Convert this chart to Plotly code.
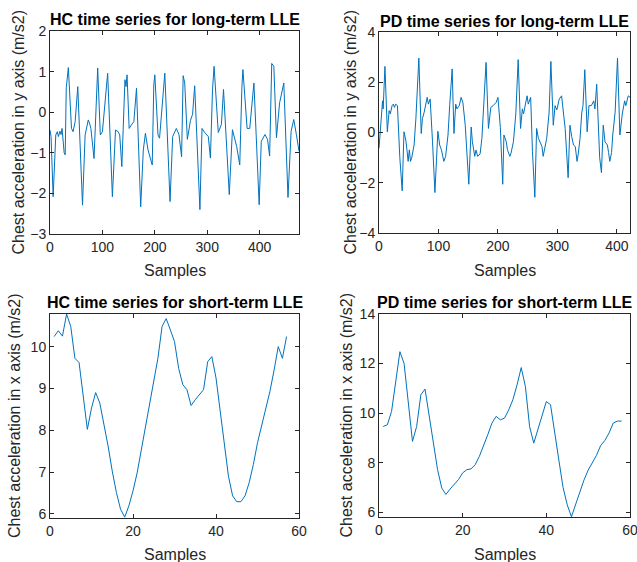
import plotly.graph_objects as go

W, H = 637, 562

# ---------------- data ----------------
hc_long_x = [0, 2, 6, 11, 14, 16, 19, 21, 23, 25, 27, 29, 31, 35, 41, 44, 48, 53, 62, 67, 73, 76, 78, 84,
             91, 96, 100, 110, 119, 125, 130, 133, 137, 143, 145, 147, 151, 155, 160, 165, 173, 178, 182,
             187, 190, 195, 198, 200, 206, 209, 219, 229, 234, 241, 246, 251, 254, 257, 262, 268, 272,
             276, 286, 290, 295, 302, 306, 310, 313, 321, 327, 331, 342, 348, 356, 360, 362, 366, 368,
             376, 381, 389, 399, 403, 410, 415, 419, 423, 427, 432, 438, 446, 454, 460, 465, 470, 475]
hc_long_y = [-0.44, -0.6, -2.08, -0.56, -0.48, -0.6, -0.47, -0.55, -0.4, -0.85, -1.0, -1.05, 0.6, 1.1,
             -0.4, -0.48, -0.23, 0.63, -2.29, -0.56, -0.19, -0.3, -0.4, -1.14, 1.09, -0.56, -0.48, 0.96,
             -2.08, -0.44, -0.48, -0.56, -1.34, 0.8, 0.63, 0.92, -0.4, -0.32, -0.23, 0.59, -2.33, -0.93,
             -0.52, -0.93, -1.05, -1.3, 0.67, 0.92, -0.56, -0.64, 0.96, -2.2, -0.6, -0.4, -0.55, -1.1,
             0.9, 0.72, -0.67, -0.2, -0.05, 0.65, -2.4, -0.4, -0.5, -0.6, -1.13, 0.55, 1.13, -0.5, -0.3,
             0.56, -2.03, -0.43, -0.84, -1.1, -1.3, 0.6, 1.05, -0.4, -0.4, 0.72, -2.28, -0.72, -0.55,
             -0.67, -1.08, 1.2, 1.13, -0.63, 0.23, 0.72, -2.1, -0.47, -0.18, -0.55, -0.96]

pd_long_x = [0, 2, 6, 7, 10, 14, 17, 19, 22, 24, 26, 28, 31, 35, 39, 42, 45, 47, 49, 51, 53, 55, 59,
             62, 63, 67, 71, 73, 76, 81, 83, 86, 90, 94, 99, 102, 105, 109, 112, 116, 119, 123, 126,
             129, 131, 135, 138, 141, 145, 151, 155, 157, 161, 163, 166, 170, 173, 176, 180, 184, 188,
             192, 197, 200, 204, 208, 210, 214, 216, 220, 222, 226, 230, 234, 238, 241, 243, 249, 251,
             255, 258, 262, 265, 268, 272, 274, 276, 282, 286, 289, 293, 296, 299, 303, 307, 313, 318,
             321, 324, 327, 330, 333, 335, 338, 341, 343, 346, 350, 353, 357, 361, 363, 366, 371, 374,
             377, 380, 384, 386, 388, 391, 393, 397, 401, 405, 409, 413, 415, 419, 422]
pd_long_y = [-0.63, -0.1, 1.26, 0.94, 2.63, 0.03, 0.87, 0.74, 1.07, 1.13, 1.0, 1.13, 1.07, -1.0, -2.32,
             0.03, -0.3, -0.69, -1.15, -0.69, -1.15, -1.0, -0.5, 0.55, 0.94, 2.96, -0.04, 0.55, 0.81,
             1.4, 1.13, 1.33, -0.37, -2.39, 0.05, -0.5, -0.69, -1.15, -0.95, -0.1, 1.13, 2.53, -0.04,
             1.13, 0.94, 1.07, 1.4, 1.2, 0.29, -2.06, 0.22, -0.37, -0.95, -0.7, -0.95, -0.85, -0.23,
             0.94, 2.79, 0.16, 1.0, 1.07, 1.2, 1.4, 0.2, -2.06, -0.1, -0.37, -0.69, -0.95, -0.82, -0.37,
             0.74, 2.9, 0.16, 0.94, 0.74, 1.46, 1.13, 1.4, -0.75, -2.58, 0.16, -0.23, -0.5, -0.56,
             -0.95, -0.23, 0.81, 2.83, 0.29, 1.07, 0.9, 1.33, 1.46, 0.16, -1.8, 0.29, -0.17, -0.5,
             -0.56, -1.15, -0.85, -0.23, 0.81, 1.07, 2.5, 0.03, 1.07, 1.07, 1.26, 0.94, 1.92, -1.0,
             -1.6, 0.29, -0.37, -0.5, -0.8, -1.15, -0.8, -0.1, 0.81, 2.96, -0.1, 0.74, 1.26, 1.07,
             1.46, 1.4]

hc_short_x = list(range(1, 58))
hc_short_y = [10.24, 10.38, 10.25, 10.78, 10.48, 9.72, 9.62, 8.81, 8.02, 8.53, 8.9, 8.65, 8.17, 7.62,
              7.02, 6.51, 6.11, 5.92, 6.19, 6.55, 6.98, 7.54, 8.06, 8.61, 9.21, 9.72, 10.48, 10.67,
              10.4, 10.12, 9.48, 9.09, 8.97, 8.59, 8.73, 8.85, 8.97, 9.64, 9.76, 9.25, 8.49, 7.7, 6.9,
              6.43, 6.29, 6.29, 6.43, 6.75, 7.18, 7.7, 8.1, 8.53, 8.93, 9.44, 10.0, 9.72, 10.24]

pd_short_x = list(range(1, 59))
pd_short_y = [9.46, 9.53, 10.07, 11.2, 12.48, 12.0, 10.4, 8.86, 9.46, 10.74, 10.97, 9.93, 8.79, 7.72,
              6.98, 6.72, 6.94, 7.12, 7.32, 7.59, 7.72, 7.75, 7.92, 8.26, 8.66, 9.13, 9.6, 9.87, 9.73,
              9.8, 10.13, 10.54, 11.14, 11.84, 11.07, 9.46, 8.79, 9.33, 9.87, 10.47, 10.34, 9.3, 8.1,
              7.0, 6.3, 5.82, 6.3, 6.85, 7.3, 7.7, 8.0, 8.3, 8.7, 8.9, 9.2, 9.6, 9.68, 9.68]

titles = ["HC time series for long-term LLE", "PD time series for long-term LLE",
          "HC time series for short-term LLE", "PD time series for short-term LLE"]
ylabels = ["Chest acceleration in y axis (m/s2)", "Chest acceleration in y axis (m/s2)",
           "Chest acceleration in x axis (m/s2)", "Chest acceleration in x axis (m/s2)"]
xlabel = "Samples"

tick_x = [[0, 100, 200, 300, 400], [0, 100, 200, 300, 400], [0, 20, 40, 60], [0, 20, 40, 60]]
tick_y = [[-3, -2, -1, 0, 1, 2], [-4, -2, 0, 2, 4], [6, 7, 8, 9, 10], [6, 8, 10, 12, 14]]
x_ranges = [[0, 475], [0, 422], [0, 60], [0, 60]]
y_ranges = [[-3, 2], [-4, 4], [5.9, 10.78], [5.81, 14]]

# ---------------- layout (pixel boxes) ----------------
boxes = [(50, 299, 31, 234), (379, 630, 32, 233), (50, 299, 314, 518), (379, 630, 314, 517)]
title_y = [19, 21, 302, 302]
ylab_x = [18, 350, 15, 346]
xlab_y = [270, 270, 554, 554]

FONT = "Liberation Sans, Arial, sans-serif"
AX = "#262626"
LINE = "#0072BD"

series = [(hc_long_x, hc_long_y), (pd_long_x, pd_long_y), (hc_short_x, hc_short_y), (pd_short_x, pd_short_y)]

fig = go.Figure()
layout = dict(width=W, height=H, margin=dict(l=0, r=0, t=0, b=0), paper_bgcolor="white",
              plot_bgcolor="white", showlegend=False, font=dict(family=FONT, color=AX))
annotations = []

def px(x):
    return x / W

def py(y):
    return 1 - y / H

for i, (xs, ys) in enumerate(series):
    n = i + 1
    xa = "x" if n == 1 else f"x{n}"
    ya = "y" if n == 1 else f"y{n}"
    fig.add_trace(go.Scatter(x=xs, y=ys, mode="lines", line=dict(color=LINE, width=1),
                             xaxis=xa, yaxis=ya, hoverinfo="skip"))
    x0, x1, y0, y1 = boxes[i]
    common = dict(showline=True, linecolor=AX, linewidth=1, mirror="ticks", ticks="inside",
                  ticklen=4, tickcolor=AX, showgrid=False, zeroline=False, automargin=False,
                  ticklabeloverflow="allow",
                  tickfont=dict(family=FONT, size=14, color=AX))
    layout["xaxis" if n == 1 else f"xaxis{n}"] = dict(
        domain=[px(x0), px(x1)], range=x_ranges[i], tickvals=tick_x[i],
        anchor=ya, **common)
    layout["yaxis" if n == 1 else f"yaxis{n}"] = dict(
        domain=[py(y1), py(y0)], range=y_ranges[i], tickvals=tick_y[i],
        anchor=xa, **common)
    annotations.append(dict(text=f"<b>{titles[i]}</b>", x=px((x0 + x1) / 2), y=py(title_y[i]),
                            xref="paper", yref="paper", showarrow=False, xanchor="center",
                            yanchor="middle", font=dict(size=16, color="#000000", family=FONT)))
    annotations.append(dict(text=ylabels[i], x=px(ylab_x[i]), y=py((y0 + y1) / 2), textangle=-90,
                            xref="paper", yref="paper", showarrow=False, xanchor="center",
                            yanchor="middle", font=dict(size=16, color=AX, family=FONT)))
    annotations.append(dict(text=xlabel, x=px((x0 + x1) / 2), y=py(xlab_y[i]),
                            xref="paper", yref="paper", showarrow=False, xanchor="center",
                            yanchor="middle", font=dict(size=16, color=AX, family=FONT)))

layout["annotations"] = annotations
fig.update_layout(**layout)
fig.write_html("out.html", config={"displayModeBar": False},
               post_script="document.body.style.margin='0';document.body.style.overflow='hidden';")
